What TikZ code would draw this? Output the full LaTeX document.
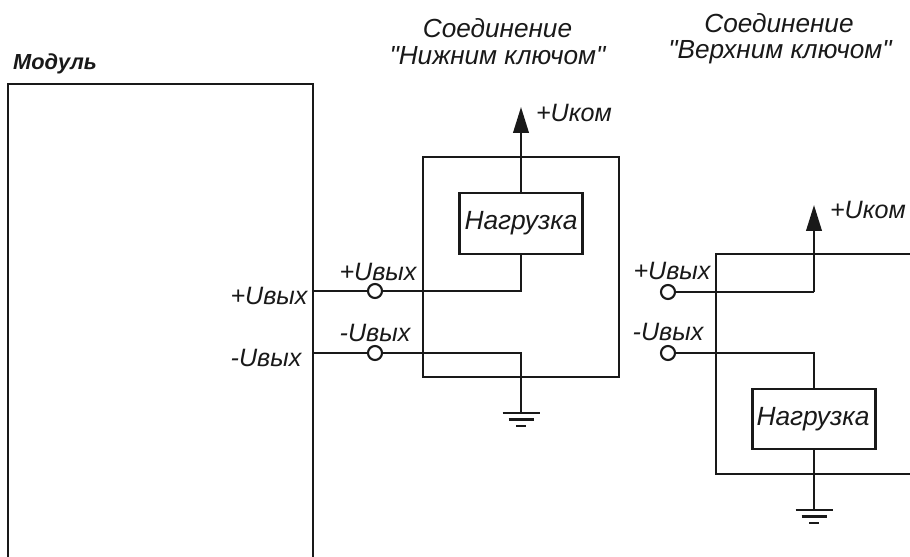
\documentclass[tikz,border=0pt]{standalone}
\usepackage{fontspec}
\setmainfont[Ligatures=TeXOff]{Liberation Sans}
\usetikzlibrary{arrows.meta}
\colorlet{wireblack}{black!90}
\tikzset{
    wire/.style={wireblack, line width=0.48mm},
    box/.style={draw=wireblack, line width=0.48mm, fill=none, inner sep=0pt},
    term/.style={circle, draw=wireblack, line width=0.42mm, fill=white, minimum size=0.28cm, inner sep=0pt},
    lbl/.style={font=\itshape\fontsize{14.3}{14.3}\selectfont, inner sep=0pt, text=wireblack},
    loadlbl/.style={font=\itshape\fontsize{15}{15}\selectfont, inner sep=0pt, text=wireblack},
    headlbl/.style={font=\itshape\fontsize{14.9}{14.9}\selectfont, inner sep=0pt, text=wireblack},
    supply/.style={wireblack, line width=0.48mm, -{Triangle[length=0.52cm,width=0.31cm]}}
}

\begin{document}
\begin{tikzpicture}[x=0.02cm,y=-0.02cm]
    \useasboundingbox (0,0) rectangle (910,557);
    % module
    \draw[wire, line width=0.58mm] (8,557)--(8,84)--(313,84)--(313,557);
    \coordinate (modplus) at (313,291);
    \coordinate (modminus) at (313,353);
    % first connection
    \node[box, minimum width=3.92cm, minimum height=4.4cm] (lowbox) at (521,267) {};
    \node[box, minimum width=2.46cm, minimum height=1.22cm] (lowload) at (521,223.5) {};
    \node[loadlbl] (lowtext) at (521,223) {Нагрузка};
    \node[term] (lowplus) at (375,291) {};
    \node[term] (lowminus) at (375,353) {};
    \coordinate (lowtop) at (521,107);
    \coordinate (lowgnd) at (521,413);
    \draw[wire] (modplus)--(lowplus);
    \draw[wire] (modminus)--(lowminus);
    \draw[wire] (lowplus)-|(lowload.south);
    \draw[wire] (lowminus)-|(lowgnd);
    \draw[supply] (lowload.north)--(lowtop);
    % second connection
    \coordinate (highboxa) at (910,254);
    \coordinate (highboxb) at (716,254);
    \coordinate (highboxc) at (716,474);
    \coordinate (highboxd) at (910,474);
    \draw[wire] (highboxa)--(highboxb)--(highboxc)--(highboxd);
    \node[box, minimum width=2.46cm, minimum height=1.2cm] (highload) at (814,419) {};
    \node[loadlbl] (hightext) at (813,419) {Нагрузка};
    \node[term] (highplus) at (668,292) {};
    \node[term] (highminus) at (668,353) {};
    \coordinate (hightop) at (814,205);
    \coordinate (highcorner) at (814,292);
    \coordinate (highgnd) at (814,510);
    \draw[wire] (highplus)--(highcorner);
    \draw[supply] (highcorner)--(hightop);
    \draw[wire] (highminus)-|(highload.north);
    \draw[wire] (highload.south)--(highgnd);
    % ground bars
    \foreach \g in {lowgnd,highgnd}{
        \draw[wire] ([xshift=-0.37cm]\g)--([xshift=0.37cm]\g);
        \draw[wire] ([xshift=-0.25cm,yshift=-0.13cm]\g)--([xshift=0.25cm,yshift=-0.13cm]\g);
        \draw[wire] ([xshift=-0.1cm,yshift=-0.26cm]\g)--([xshift=0.1cm,yshift=-0.26cm]\g);
    }
    % labels
    \node[lbl, font=\itshape\bfseries\fontsize{12.4}{12.4}\selectfont] (modlabel) at (55,64) {Модуль};
    \node[headlbl] (lowhead) at (497.5,28) {Соединение};
    \node[headlbl] (lowheadb) at (497.5,56) {"Нижним ключом"};
    \node[headlbl] (highhead) at (779,23) {Соединение};
    \node[headlbl] (highheadb) at (780,52) {"Верхним ключом"};
    \node[lbl] (lowcom) at (574,113) {+Uком};
    \node[lbl] (highcom) at (868,210) {+Uком};
    \node[lbl] (modplustext) at (269,296) {+Uвых};
    \node[lbl] (modminustext) at (266,358) {-Uвых};
    \node[lbl] (lowplustext) at (378,272) {+Uвых};
    \node[lbl] (lowminustext) at (375,333) {-Uвых};
    \node[lbl] (highplustext) at (672,271) {+Uвых};
    \node[lbl] (highminustext) at (668,332) {-Uвых};
\end{tikzpicture}
\end{document}
